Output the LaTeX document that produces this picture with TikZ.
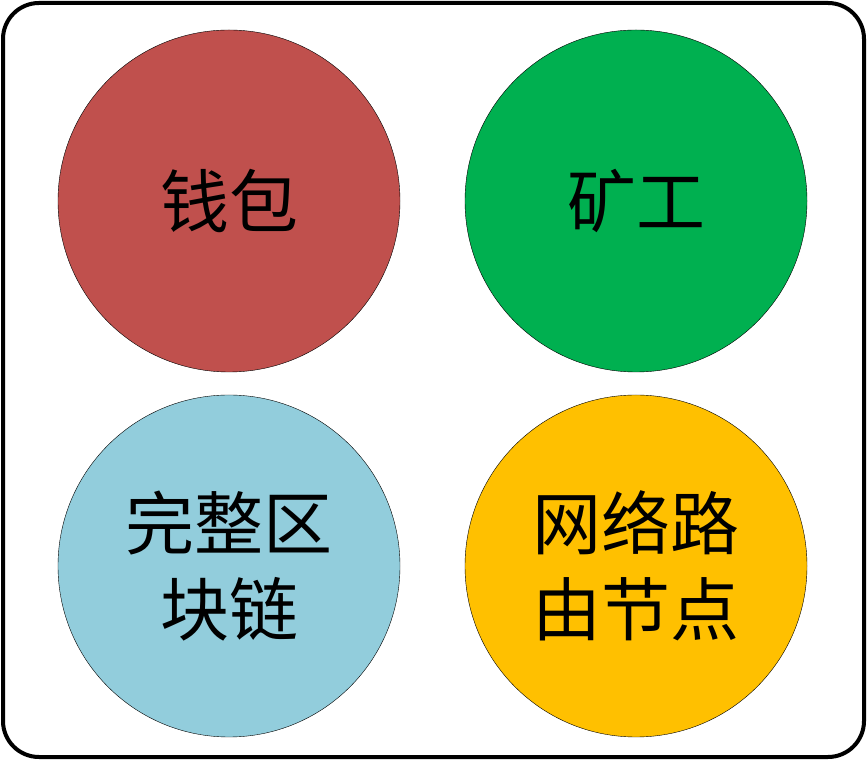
\documentclass[tikz,border=0pt]{standalone}
\usepackage{fontspec}
\newfontfamily\cjk{Noto Sans CJK SC}
\usepackage{tikz}
\definecolor{wallet}{HTML}{C0504D}
\definecolor{miner}{HTML}{00B050}
\definecolor{chain}{HTML}{92CDDC}
\definecolor{router}{HTML}{FFC000}

\begin{document}
\begin{tikzpicture}[x=1pt, y=1pt, main/.style = {draw, circle, thin, minimum size=342pt, inner sep=0pt, align=center, font=\cjk\fontsize{69}{86}\selectfont}]
\useasboundingbox (0,0) rectangle (867,760);
\draw[line width=4pt, rounded corners=36pt] (3,3) rectangle (864,757);

\node[main, fill=wallet] (1) at (229,559) {钱包};
\node[main, fill=miner] (2) at (636,559) {矿工};
\node[main, fill=chain] (3) at (229,194) {完整区\\块链};
\node[main, fill=router] (4) at (636,194) {网络路\\由节点};

\end{tikzpicture}
\end{document}
